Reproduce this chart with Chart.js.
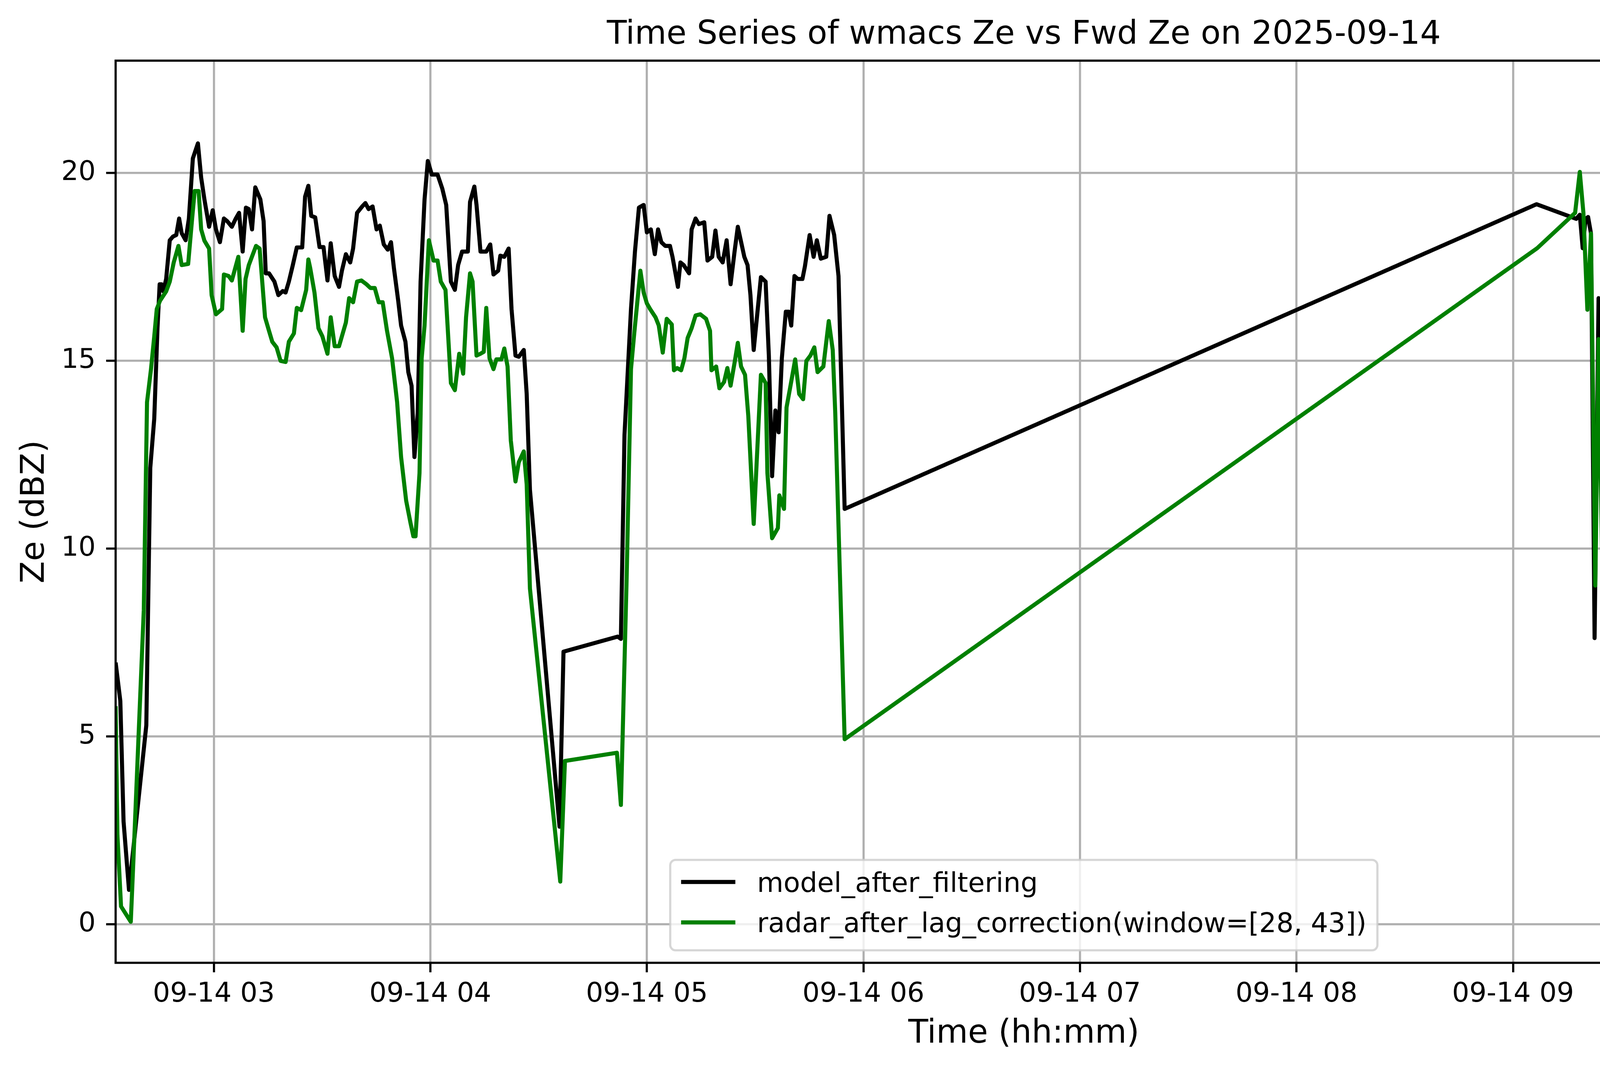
<!DOCTYPE html>
<html>
<head>
<meta charset="utf-8">
<script src="https://cdn.jsdelivr.net/npm/chart.js@4.4.1/dist/chart.umd.min.js"></script>
<style>
html,body{margin:0;padding:0;background:#ffffff;overflow:hidden;}
canvas{display:block;}
</style>
</head>
<body>
<canvas id="c" width="4995" height="2740" style="width:4995px;height:2740px"></canvas>
<script>
// ---- data (time in minutes after 00:00 on 2025-09-14, Ze in dBZ) ----
const titleText = 'Time Series of wmacs Ze vs Fwd Ze on 2025-09-14';
const xLabel = 'Time (hh:mm)';
const yLabel = 'Ze (dBZ)';
const seriesNames = ['model_after_filtering', 'radar_after_lag_correction(window=[28, 43])'];
const hourTicks = [180, 240, 300, 360, 420, 480, 540, 600];
const hourTickLabels = ['09-14 03', '09-14 04', '09-14 05', '09-14 06', '09-14 07', '09-14 08', '09-14 09', '09-14 10'];
const yTickValues = [0, 5, 10, 15, 20];

const modelMinutes = [
152.8,154.1,155.0,156.5,161.3,162.4,163.5,164.4,165.0,165.5,
166.0,166.8,167.8,168.7,169.6,170.4,171.1,172.2,173.1,174.2,
175.6,176.5,177.4,178.7,179.7,180.6,181.7,182.8,183.7,185.0,
186.1,187.0,188.0,188.9,189.7,190.6,191.5,192.9,193.8,194.4,
195.3,196.8,197.9,199.1,199.9,200.8,201.9,203.0,204.5,205.3,
206.2,207.0,208.1,209.3,210.4,211.5,212.4,213.5,214.7,215.5,
216.6,217.8,218.6,219.7,221.2,222.0,222.9,224.0,225.1,226.0,
227.1,228.2,229.1,229.9,231.1,231.9,233.1,233.9,234.8,235.6,
236.5,237.3,238.4,239.3,240.4,242.0,243.3,244.4,245.7,246.8,
247.7,248.8,250.4,251.0,252.2,252.8,253.9,255.5,256.6,257.5,
258.8,259.4,260.5,261.7,262.5,263.6,264.5,265.9,266.7,267.6,
275.8,276.9,291.9,292.8,293.8,295.6,296.7,297.8,299.1,300.0,
301.1,302.2,303.1,304.0,305.1,306.4,307.1,308.6,309.3,310.2,
311.7,312.4,313.5,314.4,315.9,316.8,318.1,319.0,319.9,321.0,
322.1,323.2,324.3,325.2,327.0,327.9,328.7,329.6,330.5,331.6,
332.9,333.8,334.7,335.6,336.5,337.4,338.5,339.3,340.0,340.9,
341.8,343.1,343.8,345.1,346.2,347.1,348.2,349.7,350.6,351.9,
353.1,354.8,546.5,557.5,558.5,559.3,560.1,560.8,561.6,562.6,
563.7,564.7,565.9,566.8,567.4,575.9,576.7,578.0,579.4,580.4,
581.5,582.7,584.2,584.8,585.4,586.7,588.3,588.7,590.2,591.6,
592.5,593.5,594.9,596.2,597.4,598.3,599.5,600.4,602.4,603.6,
604.4,605.4,606.4,607.4,608.4,609.4,610.8,611.8,613.0,613.8,
615.0,616.0,617.0,618.0,619.0,620.0,621.0,622.0,623.4,624.6,
625.6,626.6,628.0,628.6,630.0,630.8,631.6,632.4,633.6,635.2,
636.4,637.4,638.2,639.4,640.2,641.6,642.7,645.5,646.1,647.7,
649.1,649.5,650.5,651.7,652.9,653.9,654.7,655.7,656.1
];
const modelZe = [
6.97,5.95,2.74,0.92,5.30,12.15,13.46,15.87,17.04,17.04,
16.85,17.18,18.21,18.31,18.35,18.79,18.40,18.21,18.79,20.39,
20.79,19.88,19.30,18.57,19.01,18.50,18.16,18.79,18.72,18.57,
18.79,18.94,17.91,19.08,19.04,18.50,19.62,19.30,18.72,17.33,
17.33,17.11,16.75,16.86,16.82,17.11,17.55,18.02,18.02,19.37,
19.66,18.86,18.82,18.03,18.03,17.14,18.13,17.26,16.97,17.40,
17.84,17.62,17.99,18.94,19.12,19.20,19.04,19.11,18.50,18.60,
18.10,17.96,18.16,17.48,16.60,15.94,15.51,14.70,14.34,12.44,
13.61,17.11,19.30,20.32,19.96,19.96,19.59,19.15,17.11,16.89,
17.55,17.91,17.91,19.23,19.64,19.15,17.91,17.91,18.10,17.30,
17.40,17.80,17.77,17.99,16.38,15.14,15.11,15.29,14.12,11.57,
2.60,7.26,7.66,7.60,13.03,16.38,17.91,19.08,19.15,18.42,
18.50,17.84,18.50,18.16,18.06,18.06,17.77,16.97,17.62,17.55,
17.33,18.50,18.79,18.64,18.69,17.67,17.77,18.47,17.77,17.62,
18.21,17.04,17.91,18.57,17.77,17.55,16.75,15.29,16.16,17.23,
17.11,15.14,11.93,13.68,13.10,15.07,16.31,16.31,15.94,17.26,
17.18,17.18,17.52,18.35,17.77,18.21,17.72,17.77,18.86,18.35,
17.26,11.06,19.17,18.78,18.89,18.00,18.78,18.83,18.39,7.62,
16.67,12.15,18.47,15.04,15.04,18.39,19.48,16.99,15.97,18.11,
17.22,21.12,19.17,17.06,20.50,21.83,17.77,11.21,10.98,13.24,
14.18,17.92,20.58,21.59,21.05,21.20,19.02,20.50,18.00,20.03,
14.80,14.96,14.96,19.09,20.11,21.20,21.75,20.81,20.50,18.63,
17.92,19.41,18.08,18.31,20.19,19.56,19.64,18.47,20.81,20.42,
17.92,17.22,17.22,18.39,18.16,17.30,18.86,18.86,19.64,19.72,
18.55,18.08,16.36,15.50,14.64,14.64,10.90,11.91,15.43,16.52,
15.82,12.30,3.64,2.78,4.18,6.29,9.10,9.34,9.40
];

const radarMinutes = [
152.8,153.3,154.3,157.0,157.7,160.6,161.5,162.6,163.5,164.2,
165.1,166.8,167.8,168.9,170.2,171.1,172.9,174.0,174.7,175.8,
176.5,177.4,178.7,179.4,180.6,182.3,182.8,184.1,185.0,186.8,
188.0,188.8,189.7,191.7,192.7,194.2,195.3,196.2,197.4,198.5,
199.9,200.8,202.2,203.0,204.2,205.6,206.2,206.7,207.9,209.0,
210.1,211.5,212.4,213.5,214.7,216.6,217.5,218.6,219.7,220.9,
222.3,223.4,224.6,225.7,226.8,228.0,229.4,230.8,231.9,233.3,
234.5,235.3,235.9,237.0,237.6,238.4,239.6,240.9,242.0,242.9,
244.2,245.7,246.8,248.0,249.1,249.9,251.0,251.7,252.8,253.9,
254.8,255.5,256.4,257.5,258.3,259.7,260.5,261.4,262.3,263.6,
264.5,265.9,266.7,267.6,276.0,277.3,291.7,292.8,294.4,295.6,
296.5,298.2,299.1,300.0,300.9,302.4,303.3,304.4,305.5,306.9,
307.5,308.4,309.5,310.4,311.3,312.4,313.5,314.8,316.4,317.5,
317.9,319.2,320.1,321.4,322.3,323.2,324.3,325.2,326.1,327.2,
328.1,329.6,331.6,332.9,333.4,334.7,336.3,336.7,338.0,338.7,
339.8,341.1,342.2,343.3,344.2,345.3,346.4,347.3,348.9,350.4,
351.5,352.2,354.8,546.7,557.2,558.5,559.5,560.6,561.6,562.8,
563.7,564.7,566.0,566.8,576.3,577.3,579.4,580.5,581.5,582.5,
584.6,586.2,586.9,588.5,590.0,591.4,592.5,593.7,594.9,596.2,
597.0,598.3,599.3,600.5,602.4,603.6,605.6,607.0,607.8,609.8,
611.2,612.2,613.2,614.2,615.2,616.4,617.2,620.2,621.0,622.4,
623.4,624.8,625.4,626.8,628.4,629.8,630.8,631.8,633.4,635.0,
636.0,637.4,638.8,640.0,641.2,645.5,646.5,647.7,648.5,649.3,
650.5,651.7,652.5,653.9,654.7,655.7,656.1
];
const radarZe = [
5.81,2.38,0.48,0.07,1.65,8.36,13.90,14.78,15.65,16.38,
16.60,16.85,17.11,17.62,18.06,17.55,17.58,18.79,19.52,19.52,
18.50,18.20,17.99,16.75,16.24,16.38,17.30,17.26,17.14,17.77,
15.80,17.18,17.55,18.06,17.99,16.16,15.80,15.51,15.36,15.00,
14.97,15.51,15.73,16.41,16.35,16.89,17.70,17.48,16.82,15.87,
15.65,15.19,16.16,15.39,15.39,16.02,16.67,16.56,17.11,17.14,
17.04,16.94,16.94,16.56,16.56,15.80,15.07,13.90,12.44,11.28,
10.69,10.33,10.33,12.01,15.07,15.94,18.21,17.67,17.67,17.11,
16.89,14.41,14.22,15.19,14.66,16.16,17.33,17.11,15.14,15.19,
15.24,16.41,15.07,14.78,15.04,15.04,15.33,14.85,12.88,11.79,
12.30,12.59,11.71,8.94,1.14,4.35,4.57,3.18,9.23,14.78,
15.73,17.40,16.82,16.53,16.38,16.16,15.94,15.22,16.12,15.97,
14.75,14.81,14.75,15.07,15.61,15.87,16.21,16.24,16.12,15.80,
14.75,14.85,14.27,14.44,14.81,14.34,14.95,15.48,14.85,14.63,
13.54,10.66,14.63,14.41,12.01,10.28,10.55,11.42,11.06,13.76,
14.34,15.04,14.12,13.98,15.00,15.14,15.36,14.70,14.85,16.06,
15.29,13.61,4.93,18.00,18.94,20.03,18.94,16.36,18.39,9.02,
15.58,9.65,15.43,17.77,8.63,20.42,15.89,17.61,17.69,21.12,
15.27,16.99,21.90,11.20,8.63,13.08,14.18,17.85,19.80,21.59,
20.81,20.58,17.53,19.36,16.05,19.02,12.85,13.32,16.52,20.73,
20.27,19.72,18.39,15.89,17.38,17.06,15.43,19.41,18.31,15.66,
19.09,18.94,16.28,15.50,16.13,16.33,16.28,17.22,17.77,18.78,
15.43,15.35,13.71,13.24,13.08,1.30,14.80,15.66,14.57,12.30,
4.18,2.78,5.12,5.04,9.18,8.32,8.30
];

// ---- styles (matplotlib look at 500 dpi) ----
const PT = 500 / 72;
const FONT = '"DejaVu Sans", "Liberation Sans", sans-serif';
const TICK_FS = 10 * PT;
const LABEL_FS = 12 * PT;
const LINE_W = 1.5 * PT;
const GRID_W = 0.8 * PT;
const TICK_LEN = 3.5 * PT;

const modelPts = modelMinutes.map((t, i) => ({x: t, y: modelZe[i]}));
const radarPts = radarMinutes.map((t, i) => ({x: t, y: radarZe[i]}));

const xMin = Math.min(modelMinutes[0], radarMinutes[0]);
const xMax = Math.max(modelMinutes[modelMinutes.length - 1], radarMinutes[radarMinutes.length - 1]);
const allZe = modelZe.concat(radarZe);
const dMin = Math.min(...allZe), dMax = Math.max(...allZe);
const yMin = dMin - 0.05 * (dMax - dMin);
const yMax = dMax + 0.05 * (dMax - dMin);

Chart.defaults.font.family = FONT;
Chart.defaults.color = '#000000';

const mplFrameAndLegend = {
  id: 'mplFrameAndLegend',
  beforeDraw(chart) {
    const ctx = chart.ctx;
    ctx.save();
    ctx.fillStyle = '#ffffff';
    ctx.fillRect(0, 0, chart.width, chart.height);
    ctx.restore();
  },
  afterDatasetsDraw(chart) {
    const ctx = chart.ctx;
    const a = chart.chartArea;
    ctx.save();
    // spines
    ctx.lineWidth = GRID_W;
    ctx.strokeStyle = '#000000';
    ctx.strokeRect(a.left, a.top, a.right - a.left, a.bottom - a.top);

    // legend (lower center)
    const fs = TICK_FS;
    ctx.font = fs + 'px ' + FONT;
    const ds = chart.data.datasets;
    let maxW = 0;
    ds.forEach(d => { maxW = Math.max(maxW, ctx.measureText(d.label).width); });
    const pad = 0.4 * fs, handleLen = 2.0 * fs, handlePad = 0.8 * fs;
    const boxW = pad * 2 + handleLen + handlePad + maxW;
    const boxH = 231.5;
    const cx = (a.left + a.right) / 2;
    const left = cx - boxW / 2;
    const bottom = a.bottom - 32;
    const top = bottom - boxH;
    const r = 0.2 * fs;
    ctx.beginPath();
    ctx.moveTo(left + r, top);
    ctx.lineTo(left + boxW - r, top);
    ctx.arcTo(left + boxW, top, left + boxW, top + r, r);
    ctx.lineTo(left + boxW, bottom - r);
    ctx.arcTo(left + boxW, bottom, left + boxW - r, bottom, r);
    ctx.lineTo(left + r, bottom);
    ctx.arcTo(left, bottom, left, bottom - r, r);
    ctx.lineTo(left, top + r);
    ctx.arcTo(left, top, left + r, top, r);
    ctx.closePath();
    ctx.fillStyle = 'rgba(255,255,255,0.8)';
    ctx.fill();
    ctx.lineWidth = 1.0 * PT * 0.8;
    ctx.strokeStyle = 'rgba(204,204,204,0.8)';
    ctx.stroke();

    ds.forEach((d, i) => {
      const hy = top + 56.5 + i * 103.5;
      ctx.beginPath();
      ctx.moveTo(left + pad, hy);
      ctx.lineTo(left + pad + handleLen, hy);
      ctx.lineWidth = LINE_W;
      ctx.strokeStyle = d.borderColor;
      ctx.lineCap = 'butt';
      ctx.stroke();
      ctx.fillStyle = '#000000';
      ctx.textAlign = 'left';
      ctx.textBaseline = 'alphabetic';
      ctx.fillText(d.label, left + pad + handleLen + handlePad, hy + 25);
    });
    ctx.restore();
  }
};

new Chart(document.getElementById('c'), {
  type: 'line',
  data: {
    datasets: [
      {label: seriesNames[0], data: modelPts, borderColor: '#000000', backgroundColor: '#000000',
       borderWidth: LINE_W, pointRadius: 0, tension: 0, fill: false, borderJoinStyle: 'round', order: 1},
      {label: seriesNames[1], data: radarPts, borderColor: '#008000', backgroundColor: '#008000',
       borderWidth: LINE_W, pointRadius: 0, tension: 0, fill: false, borderJoinStyle: 'round', order: 0}
    ]
  },
  options: {
    responsive: false,
    devicePixelRatio: 1,
    animation: false,
    events: [],
    layout: {padding: {left: 0, right: 49, top: 0, bottom: 0}},
    plugins: {
      legend: {display: false},
      tooltip: {enabled: false},
      title: {
        display: true, text: titleText, fullSize: false, color: '#000000',
        font: {size: LABEL_FS, weight: 'normal', family: FONT},
        padding: {top: 40, bottom: 15.3}
      }
    },
    scales: {
      x: {
        type: 'linear', min: xMin, max: xMax,
        afterBuildTicks: s => { s.ticks = hourTicks.map(v => ({value: v})); },
        afterFit: s => { s.height = 274.5; },
        ticks: {
          autoSkip: false, maxRotation: 0, minRotation: 0, padding: 15.7, color: '#000000',
          font: {size: TICK_FS, family: FONT},
          callback: (v, i) => hourTickLabels[i]
        },
        grid: {color: '#b0b0b0', lineWidth: GRID_W, drawTicks: true, tickLength: TICK_LEN,
               tickColor: '#000000', tickWidth: GRID_W},
        border: {display: false},
        title: {display: true, text: xLabel, color: '#000000', font: {size: LABEL_FS, family: FONT},
                padding: {top: 0, bottom: 42}}
      },
      y: {
        type: 'linear', min: yMin, max: yMax,
        afterBuildTicks: s => { s.ticks = yTickValues.map(v => ({value: v})); },
        afterFit: s => { s.width = 296; },
        ticks: {
          padding: 26.7, color: '#000000', font: {size: TICK_FS, family: FONT},
          callback: v => String(v)
        },
        grid: {color: '#b0b0b0', lineWidth: GRID_W, drawTicks: true, tickLength: TICK_LEN,
               tickColor: '#000000', tickWidth: GRID_W},
        border: {display: false},
        title: {display: true, text: yLabel, color: '#000000', font: {size: LABEL_FS, family: FONT},
                padding: {top: 40, bottom: 0}}
      }
    }
  },
  plugins: [mplFrameAndLegend]
});
</script>
</body>
</html>
